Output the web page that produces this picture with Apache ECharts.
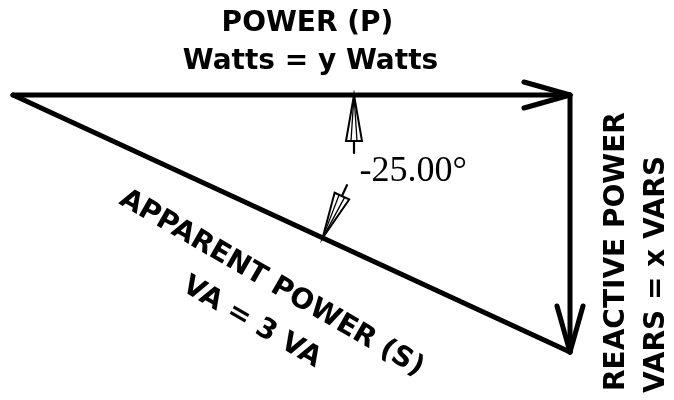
<!DOCTYPE html>
<html>
<head>
<meta charset="utf-8">
<script src="https://cdn.jsdelivr.net/npm/echarts@6/dist/echarts.min.js"></script>
<style>
  html, body { margin: 0; background: #fff; }
  #main { width: 674px; height: 400px; }
</style>
</head>
<body>
<div id="main"></div>
<script>
// power triangle, values
const apparentVA = 3;
const phaseDeg = -25.0;
const realW = 2.72;        // P along x
const reactiveVAR = -1.27; // Q, drawn downward

const vectorNames = ['P', 'Q', 'S'];
const vectorFrom = [[0, 0], [realW, 0], [0, 0]];
const vectorTo = [[realW, 0], [realW, reactiveVAR], [realW, reactiveVAR]];
const vectorHasArrow = [true, true, false];

const labelTexts = [
  'POWER (P)',
  'Watts = y Watts',
  'REACTIVE POWER',
  'VARS = x VARS',
  'APPARENT POWER (S)',
  'VA = ' + apparentVA + ' VA',
  phaseDeg.toFixed(2) + '\u00b0'
];

// angle dimension arrows sit on P and S
const markerOn = [0, 2];
const markerTurn = [1, -1];

// layout only: which vector a label hangs on, where along it, pixel nudge
const sansBold = 'bold 28px "DejaVu Sans"';
const labelLayout = [
  { v: 0, t: 0.5, dx: 16, dy: -71, rot: 0, font: sansBold, align: 'center' },
  { v: 0, t: 0.5, dx: 19, dy: -33, rot: 0, font: sansBold, align: 'center' },
  { v: 1, t: 1, dx: 47, dy: 39, rot: 90, font: sansBold, align: 'left' },
  { v: 1, t: 1, dx: 87, dy: 41, rot: 90, font: sansBold, align: 'left' },
  { v: 2, t: 0.5, dx: -20, dy: 60, rot: -30, font: sansBold, align: 'center' },
  { v: 2, t: 0.5, dx: -40, dy: 99, rot: -30, font: sansBold, align: 'center' },
  { v: 0, t: 0.5, dx: 68, dy: 77, rot: 0, font: '36px "Liberation Serif"', align: 'left' }
];

const vectorData = vectorNames.map(function (n, i) {
  return [vectorFrom[i][0], vectorFrom[i][1], vectorTo[i][0], vectorTo[i][1], i];
});
const markerData = markerOn.map(function (v, i) {
  return [vectorFrom[v][0], vectorFrom[v][1], vectorTo[v][0], vectorTo[v][1], i];
});
const labelData = labelTexts.map(function (s, i) {
  const L = labelLayout[i];
  const a = vectorFrom[L.v], b = vectorTo[L.v];
  return [a[0] + (b[0] - a[0]) * L.t, a[1] + (b[1] - a[1]) * L.t, i];
});

const ink = '#000';

function unit(a, b) {
  const dx = b[0] - a[0], dy = b[1] - a[1];
  const len = Math.sqrt(dx * dx + dy * dy);
  return [dx / len, dy / len];
}

function seg(p, q, w) {
  return {
    type: 'line',
    shape: { x1: p[0], y1: p[1], x2: q[0], y2: q[1] },
    style: { stroke: ink, lineWidth: w, lineCap: 'round' }
  };
}

function renderVector(params, api) {
  const p = api.coord([api.value(0), api.value(1)]);
  const q = api.coord([api.value(2), api.value(3)]);
  const i = api.value(4);
  const kids = [seg(p, q, 5)];
  if (vectorHasArrow[i]) {
    const u = unit(p, q);
    const back = 46, side = 13;
    kids.push(seg(q, [q[0] - u[0] * back - u[1] * side, q[1] - u[1] * back + u[0] * side], 5));
    kids.push(seg(q, [q[0] - u[0] * back + u[1] * side, q[1] - u[1] * back - u[0] * side], 5));
  }
  return { type: 'group', children: kids };
}

function renderMarker(params, api) {
  const o = api.coord([api.value(0), api.value(1)]);
  const e = api.coord([api.value(2), api.value(3)]);
  const k = markerTurn[api.value(4)];
  const u = unit(o, e);
  const n = [-u[1] * k, u[0] * k];
  const R = 341, L = 46, half = 8, tail = 12;
  const tip = [o[0] + u[0] * R, o[1] + u[1] * R];
  const b = [tip[0] + n[0] * L, tip[1] + n[1] * L];
  const c1 = [b[0] + u[0] * half, b[1] + u[1] * half];
  const c2 = [b[0] - u[0] * half, b[1] - u[1] * half];
  const i1 = [b[0] + u[0] * 3, b[1] + u[1] * 3];
  const i2 = [b[0] - u[0] * 3, b[1] - u[1] * 3];
  return {
    type: 'group',
    children: [
      {
        type: 'polygon',
        shape: { points: [tip, c1, c2] },
        style: { fill: '#fff', stroke: ink, lineWidth: 2, lineJoin: 'miter' }
      },
      seg(tip, i1, 1.3),
      seg(tip, i2, 1.3),
      seg(b, [b[0] + n[0] * tail, b[1] + n[1] * tail], 2.2)
    ]
  };
}

function renderLabel(params, api) {
  const i = api.value(2);
  const L = labelLayout[i];
  const p = api.coord([api.value(0), api.value(1)]);
  return {
    type: 'text',
    x: p[0] + L.dx,
    y: p[1] + L.dy,
    rotation: L.rot * Math.PI / 180,
    style: {
      text: labelTexts[i],
      fill: ink,
      font: L.font,
      align: L.align,
      verticalAlign: 'middle'
    }
  };
}

const chart = echarts.init(document.getElementById('main'));
chart.setOption({
  animation: false,
  backgroundColor: '#fff',
  grid: { left: 13, top: 95, width: 557, height: 257 },
  xAxis: { type: 'value', min: 0, max: realW, show: false },
  yAxis: { type: 'value', min: reactiveVAR, max: 0, show: false },
  series: [
    {
      type: 'custom',
      name: 'vectors',
      clip: false,
      silent: true,
      renderItem: renderVector,
      encode: { x: [0, 2], y: [1, 3] },
      data: vectorData
    },
    {
      type: 'custom',
      name: 'angle',
      clip: false,
      silent: true,
      renderItem: renderMarker,
      encode: { x: [0, 2], y: [1, 3] },
      data: markerData
    },
    {
      type: 'custom',
      name: 'labels',
      clip: false,
      silent: true,
      renderItem: renderLabel,
      encode: { x: 0, y: 1 },
      data: labelData
    }
  ]
});
</script>
</body>
</html>
